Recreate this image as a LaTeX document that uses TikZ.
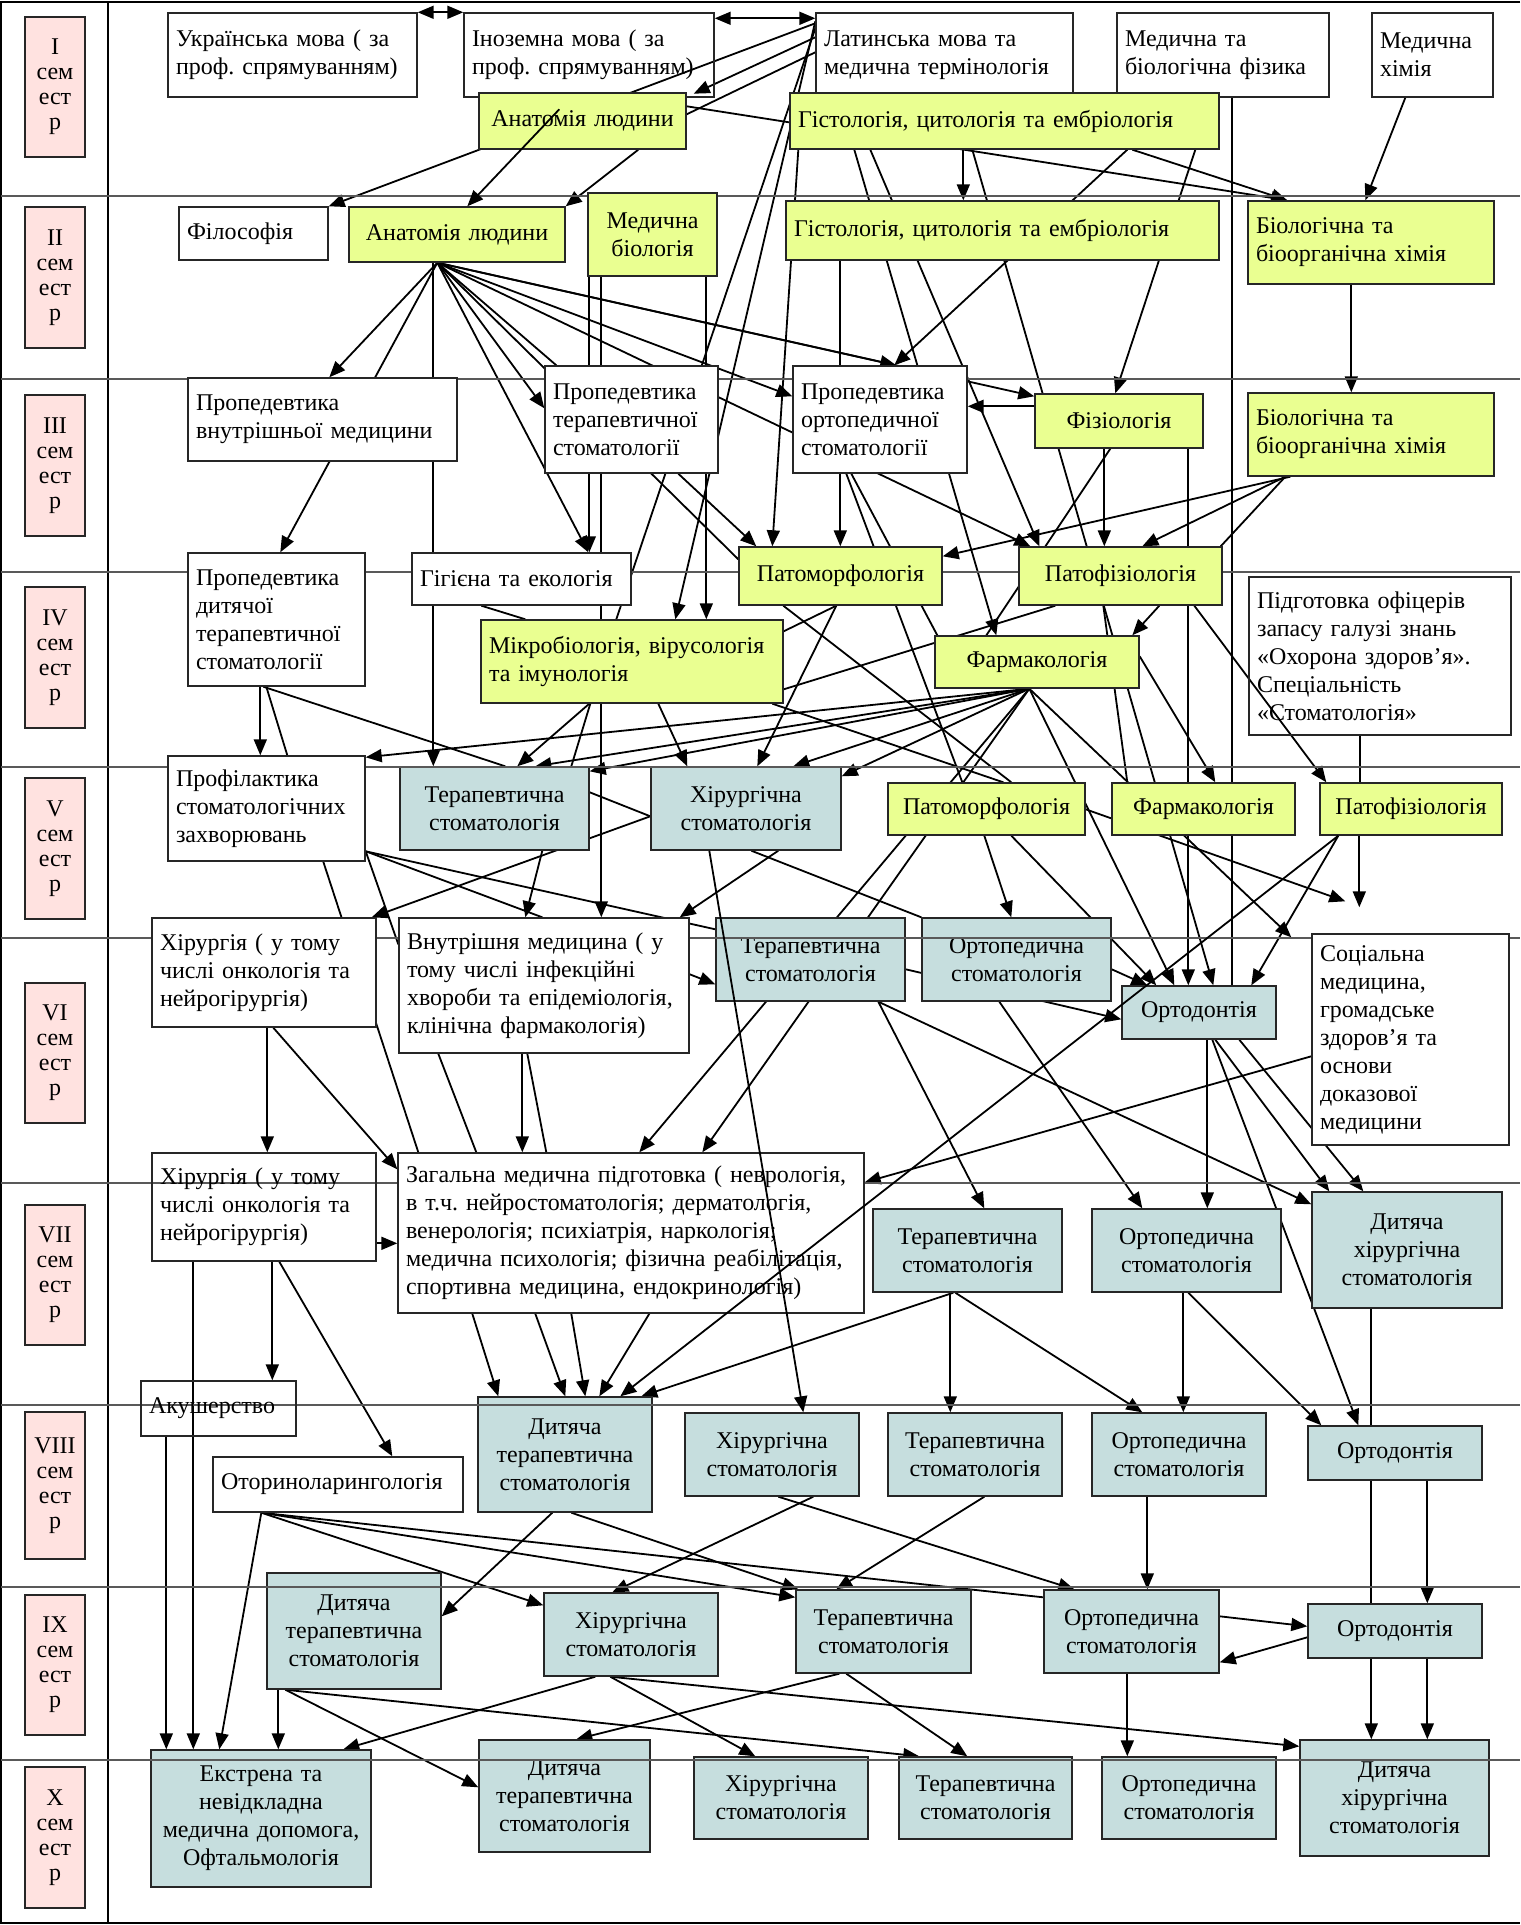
\documentclass[tikz,border=0pt]{standalone}
\usepackage{fontspec}
\setmainfont{Liberation Serif}
\usepackage{tikz}
\usetikzlibrary{calc}
\usetikzlibrary{arrows.meta}

\definecolor{semcol}{RGB}{255,226,224}
\definecolor{yelcol}{RGB}{234,255,145}
\definecolor{dentcol}{RGB}{198,222,222}

\pgfdeclarelayer{links}
\pgfdeclarelayer{dent}
\pgfdeclarelayer{grid}
\pgfsetlayers{links,dent,grid,main}

% one box of the plan: style, name, x1, y1, x2, y2 (pixels), text
\newcommand{\subj}[7]{%
  \pgfmathsetlengthmacro\subjW{(#5-#3)*0.5pt}%
  \pgfmathsetlengthmacro\subjT{(#5-#3)*0.5pt-8pt}%
  \pgfmathsetlengthmacro\subjH{(#6-#4)*0.5pt}%
  \node[#1, minimum width=\subjW, minimum height=\subjH, text width=\subjT]
    (#2) at ({(#3+#5)/2},{(#4+#6)/2}) {#7};}

\frenchspacing
\begin{document}
\begin{tikzpicture}[x=0.5pt, y=-0.5pt,
    font=\fontsize{12pt}{14pt}\selectfont\frenchspacing,
    every node/.style={inner xsep=4pt, inner ysep=2pt, line width=0.7pt},
    wbox/.style={draw=black!85, fill=white, align=left},
    wopen/.style={draw=black!85, align=left},
    ybox/.style={draw=black!85, fill=yelcol, align=center},
    yboxl/.style={draw=black!85, fill=yelcol, align=left},
    tbox/.style={draw=black!85, fill=dentcol, align=center},
    sem/.style={draw=black!85, fill=semcol, align=center, font=\fontsize{12pt}{12.5pt}\selectfont},
    rowline/.style={draw=black!65, line width=0.6pt},
    framerule/.style={draw=black, line width=0.8pt},
    bare/.style={line width=0.9pt},
    arr/.style={line width=0.9pt, -{Triangle[length=8pt,width=6.5pt]}},
    twin/.style={line width=0.9pt, {Triangle[length=8pt,width=6.5pt]}-{Triangle[length=8pt,width=6.5pt]}}]

   \useasboundingbox (0,0) rectangle (1520,1925);

   % table of semesters
   \begin{pgfonlayer}{grid}
     \draw[framerule] (1520,2) -- (1,2) -- (1,1923) -- (1520,1923);
     \draw[framerule] (108,2) -- (108,1923);
     \foreach \y in {196,379,572,767,938,1183,1405,1587,1760}
        \draw[rowline] (1,\y) -- (1520,\y);
   \end{pgfonlayer}

   \foreach \r/\ya/\yb [count=\k] in {I/17/157, II/207/348, III/395/536, IV/587/728, V/778/919,
        VI/983/1123, VII/1205/1345, VIII/1412/1559, IX/1595/1735, X/1767/1908}
      {\subj{sem}{sem\k}{25}{\ya}{85}{\yb}{\r\\сем\\ест\\р}}

   % I semester
   \subj{wbox}{Ukr}{168}{13}{417}{97}{Українська мова ( за\\проф.\ спрямуванням)}
   \subj{wopen}{Inoz}{464}{13}{714}{97}{Іноземна мова ( за\\проф.\ спрямуванням)}
   \subj{wbox}{Latin}{816}{13}{1073}{97}{Латинська мова та\\медична термінологія}
   \subj{wbox}{MedFiz}{1117}{13}{1329}{97}{Медична та\\біологічна фізика}
   \subj{wbox}{MedChem}{1372}{13}{1493}{97}{Медична\\хімія}
   \subj{ybox}{Anat1}{479}{93}{686}{149}{Анатомія людини}
   \subj{yboxl}{Gist1}{790}{93}{1219}{149}{Гістологія, цитологія та ембріологія}

   % II semester
   \subj{wbox}{Filos}{179}{207}{328}{260}{Філософія}
   \subj{ybox}{Anat2}{349}{207}{565}{262}{Анатомія людини}
   \subj{ybox}{MedBio}{588}{193}{717}{276}{Медична\\біологія}
   \subj{yboxl}{Gist2}{786}{201}{1219}{260}{Гістологія, цитологія та ембріологія}
   \subj{yboxl}{BioChem2}{1248}{201}{1494}{284}{Біологічна та\\біоорганічна хімія}

   % III semester
   \subj{wbox}{PropVnutr}{188}{378}{457}{461}{Пропедевтика\\внутрішньої медицини}
   \subj{wbox}{PropTer}{545}{366}{718}{473}{Пропедевтика\\терапевтичної\\стоматології}
   \subj{wbox}{PropOrt}{793}{366}{967}{473}{Пропедевтика\\ортопедичної\\стоматології}
   \subj{ybox}{Fiziol}{1035}{394}{1203}{448}{Фізіологія}
   \subj{yboxl}{BioChem3}{1248}{393}{1494}{476}{Біологічна та\\біоорганічна хімія}

   % IV semester
   \subj{wbox}{PropDit}{188}{553}{365}{686}{Пропедевтика\\дитячої\\терапевтичної\\стоматології}
   \subj{wbox}{Gigiena}{412}{553}{631}{605}{Гігієна та екологія}
   \subj{yboxl}{Mikro}{481}{620}{783}{703}{Мікробіологія, вірусологія\\та імунологія}
   \subj{ybox}{Patomorf4}{739}{547}{942}{605}{Патоморфологія}
   \subj{ybox}{Patofiz4}{1019}{547}{1222}{605}{Патофізіологія}
   \subj{ybox}{Farm4}{935}{636}{1139}{688}{Фармакологія}
   \subj{wopen}{Pidg}{1249}{577}{1511}{735}{Підготовка офіцерів\\запасу галузі знань\\«Охорона здоров’я».\\Спеціальність\\«Стоматологія»}

   % V and VI semester
   \subj{wbox}{Profil}{168}{756}{365}{861}{Профілактика\\стоматологічних\\захворювань}
   \subj{ybox}{Patomorf5}{888}{783}{1085}{835}{Патоморфологія}
   \subj{ybox}{Farm5}{1112}{783}{1295}{835}{Фармакологія}
   \subj{ybox}{Patofiz5}{1320}{783}{1502}{835}{Патофізіологія}
   \subj{wbox}{Hir6}{152}{918}{376}{1027}{Хірургія ( у тому\\числі онкологія та\\нейрогірургія)}
   \subj{wbox}{Vnutr6}{399}{918}{689}{1053}{Внутрішня медицина ( у\\тому числі інфекційні\\хвороби та епідеміологія,\\клінічна фармакологія)}
   \subj{wbox}{SocMed}{1312}{934}{1509}{1145}{Соціальна\\медицина,\\громадське\\здоров’я та\\основи\\доказової\\медицини}

   % VII and VIII semester
   \subj{wopen}{Hir7}{152}{1153}{376}{1261}{Хірургія ( у тому\\числі онкологія та\\нейрогірургія)}
   \subj{wbox}{Zagal}{398}{1153}{864}{1313}{Загальна медична підготовка ( неврологія,\\в т.ч.\ нейростоматологія; дерматологія,\\венерологія; психіатрія, наркологія;\\медична психологія; фізична реабілітація,\\спортивна медицина, ендокринологія)}
   \subj{wopen}{Akush}{141}{1381}{296}{1436}{Акушерство}
   \subj{wbox}{Otorin}{213}{1457}{463}{1512}{Оториноларингологія}

   % dental courses
   \begin{pgfonlayer}{dent}
   \subj{tbox}{Ter5}{400}{767}{589}{850}{Терапевтична\\стоматологія}
   \subj{tbox}{Hir5}{651}{767}{841}{850}{Хірургічна\\стоматологія}
   \subj{tbox}{Ter6}{716}{918}{905}{1001}{Терапевтична\\стоматологія}
   \subj{tbox}{Ort6}{922}{918}{1111}{1001}{Ортопедична\\стоматологія}
   \subj{tbox}{Ortodont6}{1122}{986}{1276}{1039}{Ортодонтія}
   \subj{tbox}{Ter7}{873}{1209}{1062}{1292}{Терапевтична\\стоматологія}
   \subj{tbox}{Ort7}{1092}{1209}{1281}{1292}{Ортопедична\\стоматологія}
   \subj{tbox}{DitHir7}{1312}{1192}{1502}{1308}{Дитяча\\хірургічна\\стоматологія}
   \subj{tbox}{DitTer8}{478}{1397}{652}{1512}{Дитяча\\терапевтична\\стоматологія}
   \subj{tbox}{Hir8}{685}{1413}{859}{1496}{Хірургічна\\стоматологія}
   \subj{tbox}{Ter8}{888}{1413}{1062}{1496}{Терапевтична\\стоматологія}
   \subj{tbox}{Ort8}{1092}{1413}{1266}{1496}{Ортопедична\\стоматологія}
   \subj{tbox}{Ortodont8}{1308}{1426}{1482}{1480}{Ортодонтія}
   \subj{tbox}{DitTer9}{267}{1573}{441}{1689}{Дитяча\\терапевтична\\стоматологія}
   \subj{tbox}{Hir9}{544}{1593}{718}{1676}{Хірургічна\\стоматологія}
   \subj{tbox}{Ter9}{796}{1590}{971}{1673}{Терапевтична\\стоматологія}
   \subj{tbox}{Ort9}{1044}{1590}{1219}{1673}{Ортопедична\\стоматологія}
   \subj{tbox}{Ortodont9}{1308}{1604}{1482}{1658}{Ортодонтія}
   \subj{tbox}{Ekstr}{151}{1750}{371}{1887}{Екстрена та\\невідкладна\\медична допомога,\\Офтальмологія}
   \subj{tbox}{DitTer10}{479}{1740}{650}{1852}{Дитяча\\терапевтична\\стоматологія}
   \subj{tbox}{Hir10}{694}{1757}{868}{1839}{Хірургічна\\стоматологія}
   \subj{tbox}{Ter10}{899}{1757}{1072}{1839}{Терапевтична\\стоматологія}
   \subj{tbox}{Ort10}{1102}{1757}{1276}{1839}{Ортопедична\\стоматологія}
   \subj{tbox}{DitHir10}{1300}{1740}{1489}{1856}{Дитяча\\хірургічна\\стоматологія}
   \end{pgfonlayer}

   % connectors
   \begin{pgfonlayer}{links}
   \coordinate (anatfan) at ($(Anat2.south west)+(89,0)$);
   \coordinate (farmfan) at ($(Farm4.south west)+(95,0)$);
   \coordinate (otofan) at ($(Otorin.south west)+(49,0)$);
   \coordinate (socA) at ($(SocMed.north west)+(48,-26)$);
   \coordinate (socB) at ($(SocMed.north west)+(34,-32)$);
   \coordinate (socC) at ($(SocMed.north west)+(-20,4)$);

   \draw[twin] (Ukr.north east) -- (Inoz.north west);
   \draw[twin] ($(Inoz.north east)+(0,6)$) -- ($(Latin.north west)+(0,6)$);
   \draw[arr] ($(Latin.north west)+(0,25)$) -- ($(Inoz.south east)+(-21,-4)$);
   \draw[arr] ($(Latin.north west)+(0,11)$) -- (Filos.north east);
   \draw[bare] ($(Latin.north west)+(0,40)$) -- ($(Anat1.north east)+(0,22)$);
   \draw[arr] ($(Latin.north west)+(0,9)$) -- ($(Mikro.north west)+(195,0)$);
   \draw[bare] ($(Latin.north west)+(0,16)$) -- ($(Mikro.north west)+(136,0)$);
   \draw[arr] ($(Anat1.south west)+(160,0)$) -- (Anat2.north east);
   \draw[arr] ($(Anat1.north east)+(0,14)$) -- ($(BioChem2.north west)+(40,0)$);
   \draw[arr] ($(Gist1.south west)+(343,0)$) -- ($(BioChem2.north west)+(40,0)$);
   \draw[arr] ($(MedChem.south west)+(34,0)$) -- ($(BioChem2.north west)+(118,0)$);
   \draw[arr] ($(Gist1.south west)+(174,0)$) -- ($(Gist2.north west)+(178,0)$);
   \draw[arr] ($(Gist1.south west)+(338,0)$) -- ($(PropOrt.north west)+(102,0)$);
   \draw[bare] ($(MedFiz.south west)+(116,0)$) -- ($(Ortodont6.north west)+(111,0)$);
   \draw[arr] ($(Gist1.south west)+(406,0)$) -- ($(Fiziol.north west)+(81,0)$);
   \draw[arr] ($(Gist1.south west)+(65,0)$) -- ($(Farm4.north west)+(62,0)$);
   \draw[arr] ($(Gist1.south west)+(81,0)$) -- ($(Patofiz4.north west)+(21,0)$);
   \draw[arr] ($(Gist1.south west)+(183,0)$) -- ($(Ortodont6.north west)+(92,0)$);
   \draw[arr] ($(Gist1.south west)+(9,0)$) -- ($(Patomorf4.north west)+(34,0)$);

   \draw[arr] ($(MedBio.south west)+(2,0)$) -- ($(Gigiena.north west)+(178,0)$);
   \draw[arr] ($(MedBio.south west)+(14,0)$) -- ($(Vnutr6.north west)+(203,0)$);
   \draw[arr] ($(MedBio.south west)+(119,0)$) -- ($(Mikro.north west)+(226,0)$);
   \draw[arr] ($(Gist2.south west)+(55,0)$) -- ($(Patomorf4.north west)+(102,0)$);
   \draw[arr] (anatfan) -- ($(PropVnutr.north west)+(142,0)$);
   \draw[arr] (anatfan) -- ($(PropDit.north west)+(93,0)$);
   \draw[arr] ($(Anat2.south west)+(85,0)$) -- ($(Ter5.north west)+(34,0)$);
   \draw[arr] (anatfan) -- ($(PropTer.north west)+(0,43)$);
   \draw[arr] (anatfan) -- ($(Gigiena.north west)+(177,0)$);
   \draw[bare] (anatfan) -- ($(Patomorf4.north west)+(0,13)$);
   \draw[bare] (anatfan) -- ($(PropTer.north west)+(12,0)$);
   \draw[arr] (anatfan) -- ($(PropOrt.north west)+(0,31)$);
   \draw[arr] (anatfan) -- ($(Patofiz4.north west)+(12,0)$);
   \draw[arr] (anatfan) -- ($(PropOrt.north west)+(104,0)$);
   \draw[arr] (anatfan) -- ($(Fiziol.north west)+(0,3)$);

   \draw[arr] ($(Fiziol.north west)+(0,13)$) -- ($(PropOrt.north east)+(0,41)$);
   \draw[arr] ($(PropTer.south west)+(134,0)$) -- ($(Patomorf4.north west)+(18,0)$);
   \draw[bare] ($(PropOrt.south west)+(54,0)$) -- ($(Patomorf5.north west)+(75,0)$);
   \draw[bare] ($(PropOrt.south west)+(59,0)$) -- ($(Farm4.north west)+(3,0)$);
   \draw[bare] ($(Fiziol.south west)+(76,0)$) -- ($(Farm4.north west)+(52,0)$);
   \draw[arr] ($(Fiziol.south west)+(70,0)$) -- ($(Patofiz4.north west)+(86,0)$);
   \draw[arr] ($(Fiziol.south west)+(154,0)$) -- ($(Ortodont6.north west)+(67,0)$);
   \draw[arr] ($(BioChem2.south west)+(104,0)$) -- ($(BioChem3.north west)+(104,0)$);
   \draw[arr] ($(BioChem3.south west)+(43,0)$) -- ($(Patomorf4.north east)+(0,10)$);
   \draw[arr] ($(BioChem3.south west)+(38,0)$) -- ($(Patofiz4.north west)+(124,0)$);
   \draw[bare] ($(BioChem3.south west)+(38,0)$) -- ($(Patofiz4.north east)+(-2,0)$);

   \draw[arr] ($(PropDit.south west)+(73,0)$) -- ($(Profil.north west)+(93,0)$);
   \draw[bare] ($(PropDit.south west)+(79,0)$) -- ($(Profil.north west)+(120,0)$);
   \draw[bare] ($(PropDit.south west)+(76,0)$) -- ($(Ter5.north west)+(106,0)$);
   \draw[bare] ($(Gigiena.south west)+(70,0)$) -- ($(Mikro.north west)+(45,0)$);
   \draw[bare] ($(Mikro.south west)+(110,0)$) -- ($(Ter5.north west)+(172,0)$);
   \draw[arr] ($(Mikro.south west)+(109,0)$) -- ($(Ter5.north west)+(118,0)$);
   \draw[arr] ($(Mikro.south west)+(178,0)$) -- ($(Hir5.north west)+(37,0)$);
   \draw[bare] ($(Mikro.south west)+(292,0)$) -- ($(Patomorf5.north west)+(116,0)$);
   \draw[arr] (farmfan) -- ($(Profil.north east)+(0,2)$);
   \draw[arr] (farmfan) -- ($(Ter5.north west)+(136,0)$);
   \draw[arr] (farmfan) -- ($(Ter5.north east)+(0,5)$);
   \draw[arr] (farmfan) -- ($(Hir5.north west)+(143,0)$);
   \draw[arr] (farmfan) -- ($(Hir5.north east)+(0,10)$);
   \draw[arr] ($(Patomorf4.south west)+(98,0)$) -- ($(Hir5.north west)+(107,0)$);
   \draw[bare] ($(Patomorf4.south west)+(98,0)$) -- ($(Mikro.north east)+(0,12)$);
   \draw[bare] ($(Patomorf4.south west)+(45,0)$) -- ($(Patomorf5.north west)+(124,0)$);
   \draw[bare] ($(Patofiz4.south west)+(37,0)$) -- ($(Mikro.north east)+(0,70)$);
   \draw[arr] ($(Patofiz4.south west)+(141,0)$) -- ($(Farm4.north west)+(198,0)$);
   \draw[arr] ($(Patofiz4.south west)+(176,0)$) -- ($(Patofiz5.north west)+(7,0)$);
   \draw[bare] ($(Patofiz4.south west)+(85,0)$) -- ($(Farm5.north west)+(16,0)$);
   \draw[arr] ($(Farm4.north east)+(0,21)$) -- ($(Farm5.north west)+(104,0)$);
   \draw[bare] ($(Pidg.south west)+(112,0)$) -- ($(Patofiz5.north west)+(41,0)$);

   \draw[bare] ($(Profil.south west)+(156,0)$) -- ($(Zagal.north west)+(21,0)$);
   \draw[bare] ($(Profil.north east)+(0,96)$) -- ($(Vnutr6.north west)+(0,27)$);
   \draw[bare] ($(Profil.north east)+(0,96)$) -- ($(Vnutr6.north west)+(144,0)$);
   \draw[bare] ($(Profil.north east)+(0,96)$) -- ($(Ter6.north west)+(0,12)$);
   \draw[arr] ($(Ter5.south west)+(143,0)$) -- ($(Vnutr6.north west)+(127,0)$);
   \draw[bare] ($(Ter5.north east)+(0,26)$) -- ($(Hir5.north west)+(0,50)$);
   \draw[arr] ($(Hir5.north west)+(0,50)$) -- ($(Hir6.north east)+(-5,0)$);
   \draw[arr] ($(Hir5.south west)+(128,0)$) -- ($(Vnutr6.north east)+(-10,0)$);
   \draw[bare] ($(Hir5.south west)+(101,0)$) -- (Ort6.north west);
   \draw[arr] ($(Vnutr6.north east)+(0,57)$) -- ($(Ter6.north west)+(0,67)$);
   \draw[arr] ($(Hir6.south west)+(116,0)$) -- ($(Hir7.north west)+(116,0)$);
   \draw[arr] ($(Hir6.south west)+(122,0)$) -- ($(Zagal.north west)+(0,17)$);
   \draw[bare] ($(Vnutr6.south west)+(40,0)$) -- ($(Zagal.north west)+(79,0)$);
   \draw[arr] ($(Vnutr6.south west)+(124,0)$) -- ($(Zagal.north west)+(125,0)$);
   \draw[bare] ($(Vnutr6.south west)+(129,0)$) -- ($(Zagal.north west)+(149,0)$);
   \draw[arr] (farmfan) -- ($(Zagal.north west)+(242,0)$);
   \draw[arr] (farmfan) -- ($(Zagal.north west)+(305,0)$);
   \draw[arr] ($(Ter6.north east)+(0,52)$) -- ($(Ortodont6.north west)+(0,34)$);
   \draw[arr] ($(Ort6.north east)+(0,52)$) -- ($(Ortodont6.north west)+(26,0)$);
   \draw[arr] (farmfan) -- ($(Ortodont6.north west)+(53,0)$);
   \draw[arr] ($(Patomorf5.south west)+(124,0)$) -- ($(Ortodont6.north west)+(35,0)$);
   \draw[arr] ($(Patomorf5.south west)+(97,0)$) -- ($(Ort6.north west)+(90,0)$);
   \draw[arr] ($(Patofiz5.south west)+(19,0)$) -- ($(Ortodont6.north west)+(130,0)$);
   \draw[arr] ($(Patofiz5.south west)+(40,0)$) -- (socA);
   \draw[arr] ($(Patomorf5.north east)+(0,27)$) -- (socB);
   \draw[arr] (farmfan) -- (socC);

   \draw[arr] ($(SocMed.north west)+(0,123)$) -- ($(Zagal.north east)+(0,30)$);
   \draw[arr] ($(Ter6.south west)+(163,0)$) -- ($(Ter7.north west)+(112,0)$);
   \draw[arr] ($(Ter6.south west)+(163,0)$) -- ($(DitHir7.north west)+(0,13)$);
   \draw[arr] ($(Ort6.south west)+(78,0)$) -- ($(Ort7.north west)+(51,0)$);
   \draw[arr] ($(Ortodont6.south west)+(86,0)$) -- ($(Ort7.north west)+(116,0)$);
   \draw[arr] ($(Ortodont6.south west)+(91,0)$) -- ($(Ortodont8.north west)+(51,0)$);
   \draw[arr] ($(Ortodont6.south west)+(94,0)$) -- ($(DitHir7.north west)+(18,0)$);
   \draw[arr] ($(Ortodont6.south west)+(118,0)$) -- ($(DitHir7.north west)+(52,0)$);

   \draw[arr] ($(Hir7.south west)+(121,0)$) -- ($(Akush.north west)+(132,0)$);
   \draw[arr] ($(Hir7.south west)+(128,0)$) -- ($(Otorin.north west)+(180,0)$);
   \draw[arr] ($(Hir7.north east)+(0,91)$) -- ($(Zagal.north west)+(0,91)$);
   \draw[arr] ($(Hir7.south west)+(42,0)$) -- ($(Ekstr.north west)+(43,0)$);
   \draw[arr] ($(Zagal.south west)+(75,0)$) -- ($(DitTer8.north west)+(21,0)$);
   \draw[arr] ($(Zagal.south west)+(138,0)$) -- ($(DitTer8.north west)+(88,0)$);
   \draw[arr] ($(Zagal.south west)+(174,0)$) -- ($(DitTer8.north west)+(108,0)$);
   \draw[arr] ($(Zagal.south west)+(252,0)$) -- ($(DitTer8.north west)+(122,0)$);
   \draw[arr] ($(Ter7.south west)+(81,0)$) -- ($(DitTer8.north west)+(164,0)$);
   \draw[arr] ($(Ter7.south west)+(78,0)$) -- ($(Ter8.north west)+(63,0)$);
   \draw[arr] ($(Ter7.south west)+(83,0)$) -- ($(Ort8.north west)+(51,0)$);
   \draw[arr] ($(Ort7.south west)+(92,0)$) -- ($(Ort8.north west)+(92,0)$);
   \draw[arr] ($(Ort7.south west)+(97,0)$) -- ($(Ortodont8.north west)+(14,0)$);
   \draw[arr] ($(DitHir7.south west)+(60,0)$) -- ($(DitHir10.north west)+(72,0)$);
   \draw[arr] ($(Akush.south west)+(26,0)$) -- ($(Ekstr.north west)+(16,0)$);

   \draw[arr] (otofan) -- ($(Ekstr.north west)+(69,0)$);
   \draw[arr] (otofan) -- ($(Hir9.north west)+(0,13)$);
   \draw[arr] (otofan) -- ($(Ter9.north west)+(0,8)$);
   \draw[bare] (otofan) -- ($(Ort9.north west)+(0,8)$);
   \draw[arr] ($(DitTer8.south west)+(75,0)$) -- ($(DitTer9.north east)+(0,44)$);
   \draw[arr] ($(DitTer8.south west)+(94,0)$) -- ($(Ter9.north west)+(3,0)$);
   \draw[arr] ($(Hir8.south west)+(129,0)$) -- ($(Hir9.north west)+(69,0)$);
   \draw[arr] ($(Hir8.south west)+(94,0)$) -- ($(Ort9.north west)+(31,0)$);
   \draw[arr] ($(Ter8.south west)+(97,0)$) -- ($(Ter9.north west)+(41,0)$);
   \draw[arr] ($(Ort8.south west)+(56,0)$) -- ($(Ort9.north west)+(104,0)$);
   \draw[arr] ($(Ortodont8.south west)+(120,0)$) -- ($(Ortodont9.north west)+(120,0)$);

   \draw[arr] ($(Ort9.north east)+(0,27)$) -- ($(Ortodont9.north west)+(0,23)$);
   \draw[arr] ($(Ortodont9.north west)+(0,34)$) -- ($(Ort9.north east)+(0,73)$);
   \draw[arr] ($(Ort9.south west)+(84,0)$) -- ($(Ort10.north west)+(26,0)$);
   \draw[arr] ($(Ortodont9.south west)+(120,0)$) -- ($(DitHir10.north west)+(128,0)$);
   \draw[arr] ($(Ter9.south west)+(51,0)$) -- ($(Ter10.north west)+(69,0)$);
   \draw[arr] ($(Ter9.south west)+(44,0)$) -- ($(DitTer10.north west)+(98,0)$);
   \draw[arr] ($(Hir9.south west)+(67,0)$) -- ($(DitHir10.north west)+(0,7)$);
   \draw[arr] ($(DitTer9.south west)+(19,0)$) -- ($(Ter10.north west)+(21,0)$);
   \draw[arr] ($(DitTer9.south west)+(12,0)$) -- ($(Ekstr.north west)+(128,0)$);
   \draw[arr] ($(DitTer9.south west)+(19,0)$) -- ($(DitTer10.north west)+(0,48)$);
   \draw[arr] ($(Hir9.south west)+(52,0)$) -- ($(Ekstr.north west)+(193,0)$);
   \draw[arr] ($(Hir9.south west)+(67,0)$) -- ($(Hir10.north west)+(62,0)$);
   \end{pgfonlayer}

   % lines that run over the boxes
   \draw[arr] ($(Anat1.north west)+(81,17)$) -- ($(Anat2.north west)+(119,0)$);
   \draw[arr] ($(Hir5.south west)+(59,0)$) -- ($(Hir8.north west)+(119,0)$);
   \draw[arr] ($(Patofiz5.south west)+(19,0)$) -- ($(DitTer8.north west)+(143,0)$);

\end{tikzpicture}
\end{document}
